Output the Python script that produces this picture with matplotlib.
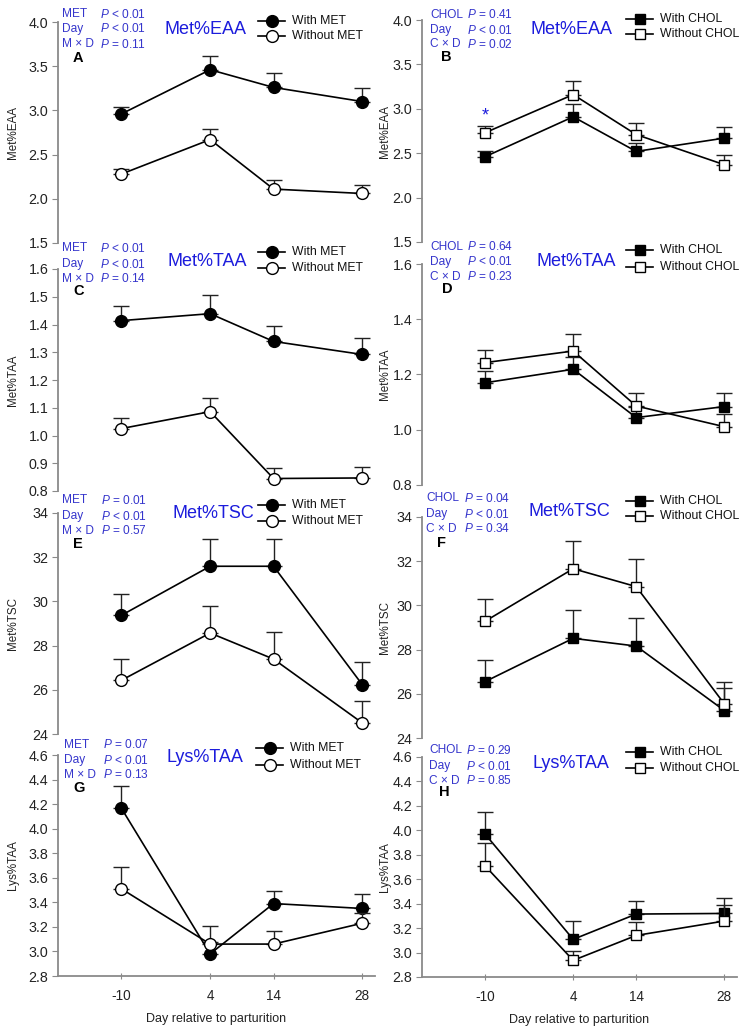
import numpy as np
import matplotlib
matplotlib.use("Agg")
import matplotlib.pyplot as plt
from matplotlib.lines import Line2D

plt.rcParams["font.family"] = ["Liberation Sans", "DejaVu Sans"]
plt.rcParams["mathtext.fontset"] = "custom"
plt.rcParams["mathtext.it"] = "Liberation Sans:italic"
plt.rcParams["mathtext.rm"] = "Liberation Sans"

days = [-10, 4, 14, 28]

# Met%EAA
eaa_met_with = [2.96, 3.46, 3.26, 3.10]
eaa_met_with_se = [0.08, 0.16, 0.16, 0.15]
eaa_met_without = [2.28, 2.67, 2.11, 2.06]
eaa_met_without_se = [0.06, 0.12, 0.10, 0.10]
eaa_chol_with = [2.46, 2.91, 2.52, 2.67]
eaa_chol_with_se = [0.07, 0.14, 0.10, 0.13]
eaa_chol_without = [2.73, 3.16, 2.71, 2.37]
eaa_chol_without_se = [0.08, 0.15, 0.13, 0.11]

# Met%TAA
taa_met_with = [1.414, 1.439, 1.339, 1.292]
taa_met_with_se = [0.053, 0.067, 0.057, 0.058]
taa_met_without = [1.025, 1.086, 0.845, 0.847]
taa_met_without_se = [0.039, 0.050, 0.038, 0.038]
taa_chol_with = [1.170, 1.219, 1.044, 1.084]
taa_chol_with_se = [0.044, 0.045, 0.040, 0.049]
taa_chol_without = [1.243, 1.285, 1.086, 1.011]
taa_chol_without_se = [0.046, 0.060, 0.048, 0.045]

# Met%TSC
tsc_met_with = [29.37, 31.59, 31.59, 26.23]
tsc_met_with_se = [0.98, 1.23, 1.23, 1.01]
tsc_met_without = [26.43, 28.57, 27.39, 24.50]
tsc_met_without_se = [0.96, 1.24, 1.22, 1.01]
tsc_chol_with = [26.55, 28.51, 28.16, 25.24]
tsc_chol_with_se = [0.98, 1.27, 1.25, 1.02]
tsc_chol_without = [29.28, 31.66, 30.85, 25.54]
tsc_chol_without_se = [1.01, 1.24, 1.23, 0.99]

# Lys%TAA
lys_met_with = [4.166, 2.98, 3.39, 3.35]
lys_met_with_se = [0.18, 0.10, 0.105, 0.12]
lys_met_without = [3.51, 3.06, 3.06, 3.23]
lys_met_without_se = [0.18, 0.15, 0.11, 0.08]
lys_chol_with = [3.97, 3.108, 3.315, 3.32]
lys_chol_with_se = [0.18, 0.15, 0.105, 0.125]
lys_chol_without = [3.71, 2.936, 3.14, 3.258]
lys_chol_without_se = [0.19, 0.08, 0.11, 0.13]

# P values
stats_A = [("MET", "< 0.01"), ("Day", "< 0.01"), ("M × D", "= 0.11")]
stats_B = [("CHOL", "= 0.41"), ("Day", "< 0.01"), ("C × D", "= 0.02")]
stats_C = [("MET", "< 0.01"), ("Day", "< 0.01"), ("M × D", "= 0.14")]
stats_D = [("CHOL", "= 0.64"), ("Day", "< 0.01"), ("C × D", "= 0.23")]
stats_E = [("MET", "= 0.01"), ("Day", "< 0.01"), ("M × D", "= 0.57")]
stats_F = [("CHOL", "= 0.04"), ("Day", "< 0.01"), ("C × D", "= 0.34")]
stats_G = [("MET", "= 0.07"), ("Day", "< 0.01"), ("M × D", "= 0.13")]
stats_H = [("CHOL", "= 0.29"), ("Day", "< 0.01"), ("C × D", "= 0.85")]

W, H = 746, 1029
BLUE = "#1c1cdc"
SBLUE = "#3535cc"
GRAY = "#8a8a8a"
DARK = "#222222"

fig = plt.figure(figsize=(W / 100, H / 100), dpi=100)


def px(x, y):
    return x / W, 1 - y / H


def make_ax(x0, x1, ytop, ybot):
    a, b = px(x0, ybot)
    c, d = px(x1, ytop)
    return fig.add_axes([a, b, c - a, d - b])


def draw(ax, yw, yw_se, yo, yo_se, marker, ylim, yticks, ylabel, labx, bottom):
    ms = 8.5 if marker == "o" else 7.5
    for y, se, fc in [(yw, yw_se, "black"), (yo, yo_se, "white")]:
        ax.errorbar(days, y, yerr=[np.zeros(len(se)), se], fmt="none",
                    ecolor=DARK, elinewidth=1.0, capsize=5.5, capthick=1.0)
        ax.plot(days, y, color="black", lw=1.2, marker=marker,
                ms=ms, mfc=fc, mec="black", mew=1.0)
    ax.set_xlim(-20, 30)
    ax.set_ylim(*ylim)
    ax.set_yticks(yticks)
    ax.set_ylabel(ylabel, fontsize=8.4, color=DARK)
    ax.yaxis.set_label_coords(labx, 0.5)
    for s in ["top", "right"]:
        ax.spines[s].set_visible(False)
    ax.spines["left"].set_color(GRAY)
    ax.spines["left"].set_linewidth(1.3)
    ax.tick_params(axis="y", direction="out", length=4, color=GRAY, labelsize=10.3,
                   labelcolor=DARK, pad=3)
    if bottom:
        ax.spines["bottom"].set_color(GRAY)
        ax.spines["bottom"].set_linewidth(1.3)
        ax.set_xticks(days)
        ax.set_xticklabels([str(d) for d in days])
        ax.tick_params(axis="x", direction="inout", length=5, color=GRAY, labelsize=9.8,
                       labelcolor=DARK, pad=7)
        ax.set_xlabel("Day relative to parturition", fontsize=9, color=DARK, labelpad=7)
    else:
        ax.spines["bottom"].set_visible(False)
        ax.set_xticks([])


def annotate(stats, xs, ys, title, tx, ty, legx, legy, letter, lx, ly, marker, grp):
    for (lab, p), y in zip(stats, ys):
        fig.text(*px(xs[0], y), lab, color=SBLUE, fontsize=8.6, va="center", ha="left")
        fig.text(*px(xs[1], y), r"$\mathit{P}$" + " " + p, color=SBLUE, fontsize=8.6,
                 va="center", ha="left")
    fig.text(*px(tx, ty), title, color=BLUE, fontsize=13, ha="center", va="center")
    fig.text(*px(lx, ly), letter, color="black", fontsize=10.5, fontweight="bold",
             ha="center", va="center")
    ms = 8.5 if marker == "o" else 7.5
    for (name, fc), y in zip([("With " + grp, "black"), ("Without " + grp, "white")], legy):
        x0, yy = px(legx, y)
        x1, _ = px(legx + 27, y)
        xm, _ = px(legx + 13.5, y)
        fig.add_artist(Line2D([x0, x1], [yy, yy], color="black", lw=1.2,
                              transform=fig.transFigure))
        fig.add_artist(Line2D([xm], [yy], marker=marker, ms=ms,
                              mfc=fc, mec="black", mew=1.0, transform=fig.transFigure))
        fig.text(*px(legx + 34, y), name, fontsize=8.8, color="#111111",
                 ha="left", va="center")


LX0, LX1 = 58, 375
RX0, RX1 = 422, 737
LLAB = (19 - LX0) / (LX1 - LX0)
RLAB = (391 - RX0) / (RX1 - RX0)

axA = make_ax(LX0, LX1, 22, 243)
draw(axA, eaa_met_with, eaa_met_with_se, eaa_met_without, eaa_met_without_se, "o",
     (1.5, 4.0), np.arange(1.5, 4.01, 0.5), "Met%EAA", LLAB, False)
axB = make_ax(RX0, RX1, 20, 242)
draw(axB, eaa_chol_with, eaa_chol_with_se, eaa_chol_without, eaa_chol_without_se, "s",
     (1.5, 4.0), np.arange(1.5, 4.01, 0.5), "Met%EAA", RLAB, False)
axB.text(days[0], eaa_chol_without[0] + eaa_chol_without_se[0] + 0.01, "*",
         color=BLUE, fontsize=13, ha="center", va="bottom")

axC = make_ax(LX0, LX1, 269, 491)
draw(axC, taa_met_with, taa_met_with_se, taa_met_without, taa_met_without_se, "o",
     (0.8, 1.6), np.arange(0.8, 1.61, 0.1), "Met%TAA", LLAB, False)
axD = make_ax(RX0, RX1, 264, 485)
draw(axD, taa_chol_with, taa_chol_with_se, taa_chol_without, taa_chol_without_se, "s",
     (0.8, 1.6), np.arange(0.8, 1.61, 0.2), "Met%TAA", RLAB, False)

axE = make_ax(LX0, LX1, 513, 734)
draw(axE, tsc_met_with, tsc_met_with_se, tsc_met_without, tsc_met_without_se, "o",
     (24, 34), np.arange(24, 35, 2), "Met%TSC", LLAB, False)
axF = make_ax(RX0, RX1, 517, 738)
draw(axF, tsc_chol_with, tsc_chol_with_se, tsc_chol_without, tsc_chol_without_se, "s",
     (24, 34), np.arange(24, 35, 2), "Met%TSC", RLAB, False)

axG = make_ax(LX0, LX1, 755, 976)
draw(axG, lys_met_with, lys_met_with_se, lys_met_without, lys_met_without_se, "o",
     (2.8, 4.6), np.arange(2.8, 4.61, 0.2), "Lys%TAA", LLAB, True)
axH = make_ax(RX0, RX1, 757, 977)
draw(axH, lys_chol_with, lys_chol_with_se, lys_chol_without, lys_chol_without_se, "s",
     (2.8, 4.6), np.arange(2.8, 4.61, 0.2), "Lys%TAA", RLAB, True)

for ax in [axA, axB, axC, axD, axG, axH]:
    ax.yaxis.set_major_formatter(plt.FormatStrFormatter("%.1f"))
for ax in [axE, axF]:
    ax.yaxis.set_major_formatter(plt.FormatStrFormatter("%d"))

annotate(stats_A, (62, 100), (14, 29, 44), "Met%EAA", 205, 30, 258, (21, 36), "A", 78, 58, "o", "MET")
annotate(stats_C, (62, 100), (248, 264, 279), "Met%TAA", 207, 262, 258, (252, 268), "C", 79, 291, "o", "MET")
annotate(stats_E, (62, 101), (500, 516, 531), "Met%TSC", 213, 513, 258, (505, 521), "E", 78, 544, "o", "MET")
annotate(stats_G, (64, 103), (745, 760, 775), "Lys%TAA", 205, 758, 256, (748, 765), "G", 79, 788, "o", "MET")

annotate(stats_B, (430, 467), (15, 30, 44), "Met%EAA", 572, 30, 626, (19, 34), "B", 446, 57, "s", "CHOL")
annotate(stats_D, (430, 467), (247, 262, 277), "Met%TAA", 576, 261, 626, (250, 267), "D", 447, 289, "s", "CHOL")
annotate(stats_F, (426, 464), (498, 514, 529), "Met%TSC", 569, 512, 626, (501, 516), "F", 442, 543, "s", "CHOL")
annotate(stats_H, (429, 466), (750, 766, 781), "Lys%TAA", 571, 763, 626, (752, 768), "H", 444, 792, "s", "CHOL")

fig.savefig("out.png", dpi=100)
